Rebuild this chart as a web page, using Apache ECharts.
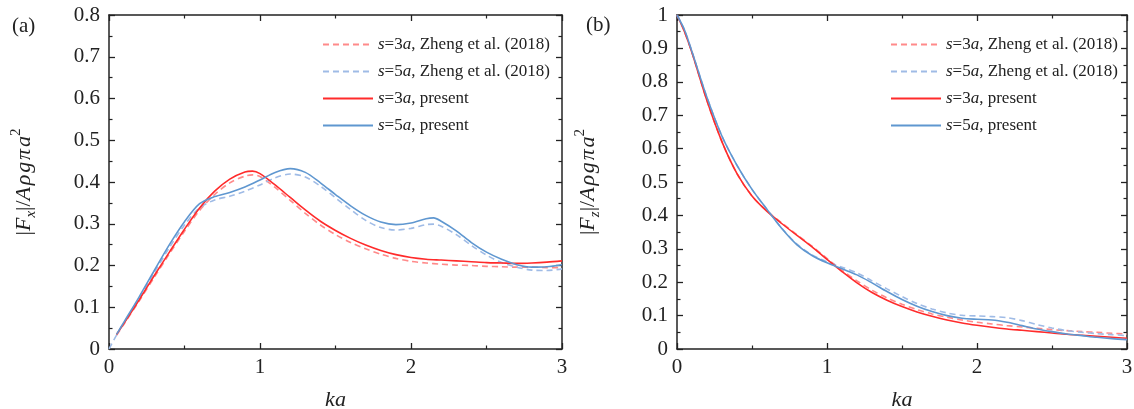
<!DOCTYPE html>
<html><head><meta charset="utf-8">
<script src="https://cdn.jsdelivr.net/npm/echarts@6/dist/echarts.min.js"></script>
<style>html,body{margin:0;padding:0;background:#fff}#c{width:1134px;height:409px}</style>
</head><body><div id="c"></div>
<script>
// ---- Panel (a): |Fx| ----
const kaA = [0.05,0.1,0.2,0.3,0.4,0.5,0.6,0.7,0.8,0.9,0.95,1.0,1.1,1.2,1.3,1.4,1.5,1.6,1.7,1.8,1.9,2.0,2.1,2.2,2.3,2.4,2.5,2.6,2.7,2.8,2.9,3.0];
const fxS3Present = [0.035,0.062,0.118,0.176,0.232,0.287,0.338,0.378,0.407,0.424,0.426,0.420,0.393,0.363,0.333,0.306,0.284,0.265,0.249,0.236,0.226,0.219,0.215,0.213,0.211,0.209,0.207,0.206,0.205,0.206,0.208,0.211];
const fxS3Zheng   = [0.033,0.060,0.115,0.172,0.228,0.282,0.332,0.370,0.398,0.414,0.417,0.413,0.387,0.356,0.325,0.297,0.274,0.255,0.240,0.227,0.217,0.210,0.206,0.203,0.201,0.200,0.198,0.197,0.196,0.196,0.195,0.195];
const kaA5 = [0.05,0.1,0.2,0.3,0.4,0.5,0.6,0.7,0.8,0.9,1.0,1.1,1.2,1.3,1.4,1.5,1.6,1.7,1.8,1.9,2.0,2.1,2.15,2.2,2.3,2.4,2.5,2.6,2.7,2.8,2.9,3.0];
const fxS5Present = [0.035,0.065,0.125,0.188,0.250,0.305,0.348,0.365,0.375,0.388,0.405,0.423,0.432,0.423,0.398,0.370,0.343,0.320,0.304,0.298,0.302,0.312,0.314,0.306,0.283,0.255,0.232,0.215,0.202,0.196,0.197,0.202];
const kaA5z = [0,0.05,0.1,0.2,0.3,0.4,0.5,0.6,0.7,0.8,0.9,1.0,1.1,1.2,1.3,1.4,1.5,1.6,1.7,1.8,1.9,2.0,2.1,2.15,2.2,2.3,2.4,2.5,2.6,2.7,2.8,2.9,3.0];
const fxS5Zheng   = [0.0,0.033,0.063,0.122,0.183,0.243,0.297,0.338,0.357,0.366,0.378,0.393,0.410,0.419,0.412,0.390,0.362,0.334,0.308,0.291,0.285,0.289,0.298,0.299,0.294,0.274,0.248,0.225,0.207,0.196,0.189,0.188,0.192];

// ---- Panel (b): |Fz| ----
const kaB = [0,0.05,0.1,0.2,0.3,0.4,0.5,0.6,0.7,0.8,0.9,1.0,1.1,1.2,1.3,1.4,1.5,1.6,1.7,1.8,1.9,2.0,2.1,2.2,2.3,2.4,2.5,2.6,2.7,2.8,2.9,3.0];
const fzS3Present = [1.0,0.950,0.887,0.743,0.620,0.525,0.458,0.412,0.375,0.340,0.306,0.268,0.232,0.198,0.169,0.146,0.127,0.111,0.098,0.087,0.078,0.071,0.065,0.060,0.056,0.052,0.048,0.044,0.041,0.038,0.035,0.032];
const fzS3Zheng   = [1.0,0.950,0.887,0.743,0.620,0.525,0.458,0.413,0.377,0.342,0.308,0.271,0.236,0.204,0.176,0.153,0.134,0.118,0.105,0.095,0.087,0.080,0.075,0.070,0.066,0.062,0.058,0.055,0.052,0.050,0.047,0.045];
const fzS5Present = [1.0,0.955,0.890,0.753,0.637,0.550,0.478,0.418,0.360,0.312,0.280,0.258,0.240,0.222,0.198,0.172,0.148,0.128,0.112,0.100,0.092,0.089,0.087,0.080,0.070,0.060,0.052,0.045,0.040,0.035,0.031,0.028];
const fzS5Zheng   = [1.0,0.955,0.890,0.753,0.637,0.550,0.478,0.418,0.361,0.314,0.282,0.261,0.245,0.228,0.204,0.180,0.157,0.136,0.120,0.108,0.101,0.099,0.097,0.094,0.085,0.073,0.063,0.055,0.050,0.046,0.043,0.040];

const names = ['s=3a, Zheng et al. (2018)','s=5a, Zheng et al. (2018)','s=3a, present','s=5a, present'];
const legendRich = {
  [names[0]]:'{i|s}=3{i|a}, Zheng et al. (2018)',
  [names[1]]:'{i|s}=5{i|a}, Zheng et al. (2018)',
  [names[2]]:'{i|s}=3{i|a}, present',
  [names[3]]:'{i|s}=5{i|a}, present'
};

const FONT = 'Liberation Serif';
const RED = '#ff2b2b', BLUE = '#5f97d0', RED_D = '#ff8a8a', BLUE_D = '#9fbbe6';
const pairs = (xs, ys) => xs.map((x,i)=>[x, ys[i]]);
const HS = '\u200A';

function xAx(grid, top){
  return {type:'value', gridIndex:grid, min:0, max:3, interval:1, position: top?'top':'bottom',
    axisLine:{show:true, onZero:false, lineStyle:{color:'#222', width:1.5}},
    axisTick:{show:true, inside:true, length:6, lineStyle:{color:'#222', width:1.3}},
    minorTick:{show:true, splitNumber:2, length:3.5, lineStyle:{color:'#222', width:1.2}},
    splitLine:{show:false}, minorSplitLine:{show:false},
    axisLabel:{show:!top, fontFamily:FONT, fontSize:21, color:'#222', margin:8},
    name: top?'':'ka', nameLocation:'middle', nameGap:40,
    nameTextStyle:{fontFamily:FONT, fontSize:22, fontStyle:'italic', color:'#222'}
  };
}
function yAx(grid, right, max, interval, nameRich, gap){
  return {type:'value', gridIndex:grid, min:0, max:max, interval:interval, position: right?'right':'left',
    axisLine:{show:true, onZero:false, lineStyle:{color:'#222', width:1.5}},
    axisTick:{show:true, inside:true, length:6, lineStyle:{color:'#222', width:1.3}},
    minorTick:{show:true, splitNumber:2, length:3.5, lineStyle:{color:'#222', width:1.2}},
    splitLine:{show:false}, minorSplitLine:{show:false},
    axisLabel:{show:!right, fontFamily:FONT, fontSize:21, color:'#222', margin:9},
    name: right?'':nameRich, nameLocation:'middle', nameGap:gap, nameRotate:90,
    nameTextStyle:{fontFamily:FONT, fontSize:22, color:'#222',
      rich:{
        n:{fontFamily:FONT, fontSize:22, lineHeight:30, color:'#222'},
        i:{fontFamily:FONT, fontSize:22, fontStyle:'italic', lineHeight:30, color:'#222'},
        sub:{fontFamily:FONT, fontSize:15, fontStyle:'italic', lineHeight:13, verticalAlign:'bottom', color:'#222'},
        sup:{fontFamily:FONT, fontSize:15, lineHeight:15, verticalAlign:'top', color:'#222'}
      }}
  };
}
function line(name, xi, yi, data, color, dashed){
  return {name, type:'line', xAxisIndex:xi, yAxisIndex:yi, data, smooth:0.3, showSymbol:false, symbol:'none',
    lineStyle:{color, width:1.6, type: dashed?[6,4]:'solid'}, itemStyle:{color}, z: dashed?2:3, animation:false};
}
function legend(left){
  return {orient:'vertical', left:left, top:31, itemWidth:50, itemHeight:10, itemGap:10,
    data:names,
    itemStyle:{opacity:0},
    formatter:(n)=>legendRich[n],
    textStyle:{fontFamily:FONT, fontSize:17, color:'#222',
      rich:{i:{fontFamily:FONT, fontSize:17, fontStyle:'italic', color:'#222'}}}
  };
}
const yNameA = '{n||}{i|F}{sub|x}{n||/}{i|A'+HS+'ρ'+HS+'g'+HS+'π'+HS+'a}{sup|2}';
const yNameB = '{n||}{i|F}{sub|z}{n||/}{i|A'+HS+'ρ'+HS+'g'+HS+'π'+HS+'a}{sup|2}';

const option = {
  animation:false,
  backgroundColor:'#fff',
  title:[
    {text:'(a)', left:7, top:11, textStyle:{fontFamily:FONT, fontSize:21, fontWeight:'normal', color:'#222'}},
    {text:'(b)', left:581, top:10, textStyle:{fontFamily:FONT, fontSize:21, fontWeight:'normal', color:'#222'}}
  ],
  grid:[
    {left:109, right:572, top:15, bottom:60, containLabel:false, outerBoundsMode:'none'},
    {left:677, right:7, top:15, bottom:60, containLabel:false, outerBoundsMode:'none'}
  ],
  xAxis:[xAx(0,false), xAx(0,true), xAx(1,false), xAx(1,true)],
  yAxis:[
    yAx(0,false,0.8,0.1,yNameA,70),
    yAx(0,true,0.8,0.1,'',0),
    yAx(1,false,1,0.1,yNameB,74),
    yAx(1,true,1,0.1,'',0)
  ],
  legend:[legend(317), legend(885)],
  series:[
    line(names[0],0,0,pairs(kaA,fxS3Zheng),RED_D,true),
    line(names[1],0,0,pairs(kaA5z,fxS5Zheng),BLUE_D,true),
    line(names[2],0,0,pairs(kaA,fxS3Present),RED,false),
    line(names[3],0,0,pairs(kaA5,fxS5Present),BLUE,false),
    line(names[0],2,2,pairs(kaB,fzS3Zheng),RED_D,true),
    line(names[1],2,2,pairs(kaB,fzS5Zheng),BLUE_D,true),
    line(names[2],2,2,pairs(kaB,fzS3Present),RED,false),
    line(names[3],2,2,pairs(kaB,fzS5Present),BLUE,false)
  ]
};
const chart = echarts.init(document.getElementById('c'), null, {renderer:'canvas'});
chart.setOption(option);
</script>
</body></html>
